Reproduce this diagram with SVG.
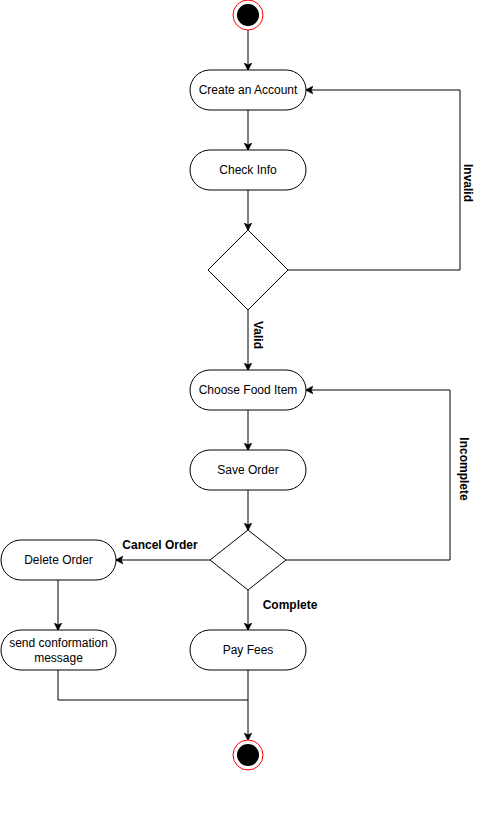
<svg xmlns="http://www.w3.org/2000/svg" width="486" height="824" viewBox="0 0 486 824">
  <style>
    .box { fill: #ffffff; stroke: #000000; stroke-width: 1; }
    .dec { fill: #ffffff; stroke: #000000; stroke-width: 1; }
    .edge { fill: none; stroke: #000000; stroke-width: 1; }
    .txt { font-family: "Liberation Sans", Arial, sans-serif; font-size: 12px; fill: #000000; text-anchor: middle; dominant-baseline: central; }
    .lbl { font-family: "Liberation Sans", Arial, sans-serif; font-size: 12px; font-weight: bold; fill: #000000; text-anchor: middle; dominant-baseline: central; }
    .ring { fill: #ffffff; stroke: #ff0000; stroke-width: 1; }
    .dot { fill: #000000; }
  </style>
  <defs>
    <marker id="arrow" viewBox="0 0 10 10" refX="9" refY="5" markerWidth="8" markerHeight="8" markerUnits="userSpaceOnUse" orient="auto">
      <path d="M0,0 L10,5 L0,10 L2.5,5 Z" fill="#000000" stroke="#000000" stroke-width="0.5"/>
    </marker>
  </defs>
  <rect width="486" height="824" fill="#ffffff"/>

  <g id="connectors">
    <path class="edge" d="M248,30 L248,70" marker-end="url(#arrow)"/>
    <path class="edge" d="M248,110 L248,150" marker-end="url(#arrow)"/>
    <path class="edge" d="M248,190 L248,230" marker-end="url(#arrow)"/>
    <path class="edge" d="M288,270 L460,270 L460,90 L306,90" marker-end="url(#arrow)"/>
    <path class="edge" d="M248,310 L248,370" marker-end="url(#arrow)"/>
    <path class="edge" d="M248,410 L248,450" marker-end="url(#arrow)"/>
    <path class="edge" d="M248,490 L248,530" marker-end="url(#arrow)"/>
    <path class="edge" d="M286,560 L450,560 L450,390 L306,390" marker-end="url(#arrow)"/>
    <path class="edge" d="M210,560 L116,560" marker-end="url(#arrow)"/>
    <path class="edge" d="M248,590 L248,630" marker-end="url(#arrow)"/>
    <path class="edge" d="M58,580 L58,630" marker-end="url(#arrow)"/>
    <path class="edge" d="M58,670 L58,700 L248,700"/>
    <path class="edge" d="M248,670 L248,740" marker-end="url(#arrow)"/>
    <text class="lbl" transform="translate(468,183) rotate(90)">Invalid</text>
    <text class="lbl" transform="translate(258,335) rotate(90)">Valid</text>
    <text class="lbl" transform="translate(464,469) rotate(90)">Incomplete</text>
    <text class="lbl" x="160" y="545">Cancel Order</text>
    <text class="lbl" x="290" y="605">Complete</text>
  </g>

  <g id="start">
    <circle class="ring" cx="248" cy="15" r="15"/>
    <circle class="dot" cx="248" cy="15" r="11"/>
  </g>

  <g id="create-account">
    <rect class="box" x="190" y="70" width="116" height="40" rx="20" ry="20"/>
    <text class="txt" x="248" y="90">Create an Account</text>
  </g>

  <g id="check-info">
    <rect class="box" x="190" y="150" width="116" height="40" rx="20" ry="20"/>
    <text class="txt" x="248" y="170">Check Info</text>
  </g>

  <g id="decision-valid">
    <polygon class="dec" points="248,230 288,270 248,310 208,270"/>
  </g>

  <g id="choose-food">
    <rect class="box" x="190" y="370" width="116" height="40" rx="20" ry="20"/>
    <text class="txt" x="248" y="390">Choose Food Item</text>
  </g>

  <g id="save-order">
    <rect class="box" x="190" y="450" width="116" height="40" rx="20" ry="20"/>
    <text class="txt" x="248" y="470">Save Order</text>
  </g>

  <g id="decision-complete">
    <polygon class="dec" points="248,530 286,560 248,590 210,560"/>
  </g>

  <g id="delete-order">
    <rect class="box" x="1" y="540" width="115" height="40" rx="20" ry="20"/>
    <text class="txt" x="58.5" y="560">Delete Order</text>
  </g>

  <g id="send-confirmation">
    <rect class="box" x="1" y="630" width="115" height="40" rx="20" ry="20"/>
    <text class="txt" x="58.5" y="643">send conformation</text>
    <text class="txt" x="58.5" y="658">message</text>
  </g>

  <g id="pay-fees">
    <rect class="box" x="190" y="630" width="116" height="40" rx="20" ry="20"/>
    <text class="txt" x="248" y="650">Pay Fees</text>
  </g>

  <g id="end">
    <circle class="ring" cx="248" cy="755" r="15"/>
    <circle class="dot" cx="248" cy="755" r="11"/>
  </g>
</svg>
